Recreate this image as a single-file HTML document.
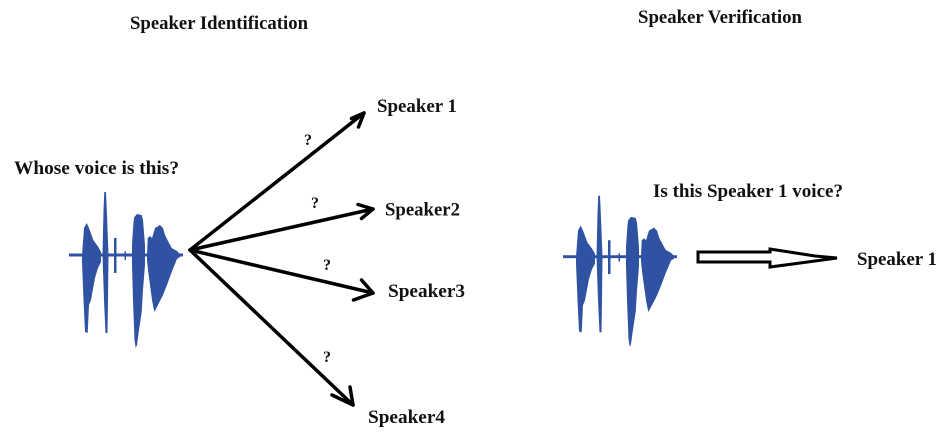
<!DOCTYPE html>
<html>
<head>
<meta charset="utf-8">
<style>
  html, body { margin: 0; padding: 0; background: #ffffff; }
  body { width: 947px; height: 434px; overflow: hidden; }
  svg { display: block; }
  text { font-family: "Liberation Serif", "DejaVu Serif", serif; font-weight: bold; fill: #111111; }
</style>
</head>
<body>
<svg width="947" height="434" viewBox="0 0 947 434" xmlns="http://www.w3.org/2000/svg">
  <rect x="0" y="0" width="947" height="434" fill="#ffffff"/>

  <defs>
    <g id="wave" fill="#2f52a3">
      <rect x="69" y="253.5" width="114" height="3"/>
      <!-- burst 1 -->
      <polygon points="82,255 84,228 86.7,223 89,228 93.3,240 98.3,247 101,252 101,262 98,268 95,278 91,300 89,305 87.7,333 85,332 83.5,300 82,262"/>
      <!-- spike 2 -->
      <polygon points="102.5,255 103.5,210 104.3,192 106,192 107,215 108.5,255 108,300 107.5,333 105.5,333 104,300"/>
      <!-- small spike -->
      <rect x="114" y="238" width="2.5" height="35"/>
      <rect x="124.5" y="251.5" width="1.5" height="8.5"/>
      <!-- burst 3 -->
      <polygon points="132,245 133.5,222 134.3,217 137,214 141.7,215 143,220 145,245 145,265 143,290 141.7,312 139,330 137,345 135.7,348 134.5,340 133,300 132,265"/>
      <!-- burst 4 -->
      <polygon points="147,255 147.7,238 150,236 152,238 155,228 160,225 163,228 165,235 168,241 171.7,248 177,251 180,254 180,257 177,259 171.7,272 167,285 163,295 158,305 154.3,312 152,300 150,285 148,270 147,260"/>
    </g>
  </defs>

  <!-- Titles -->
  <text x="130" y="29" font-size="18.5" textLength="178" lengthAdjust="spacingAndGlyphs">Speaker Identification</text>
  <text x="638" y="23" font-size="18.5" textLength="164" lengthAdjust="spacingAndGlyphs">Speaker Verification</text>

  <!-- Left side -->
  <text x="14" y="174" font-size="19" textLength="165" lengthAdjust="spacingAndGlyphs">Whose voice is this?</text>
  <use href="#wave"/>

  <g stroke="#000" stroke-width="3.5" fill="none" stroke-linecap="round" stroke-linejoin="round">
    <path d="M190 250 L364 113"/>
    <path d="M351.5 118.5 L364 113 L358.5 127"/>
    <path d="M190 250 L373 209"/>
    <path d="M358 204.5 L373 209 L361.5 218.5"/>
    <path d="M190 250 L373 293"/>
    <path d="M361.5 280 L373 293 L353.5 300"/>
    <path d="M190 250 L353 405"/>
    <path d="M350 387 L353 405 L332 395"/>
  </g>

  <text x="308" y="145" font-size="16" text-anchor="middle">?</text>
  <text x="315" y="208" font-size="16" text-anchor="middle">?</text>
  <text x="327" y="270" font-size="16" text-anchor="middle">?</text>
  <text x="327" y="362" font-size="16" text-anchor="middle">?</text>

  <text x="377" y="112" font-size="19" textLength="80" lengthAdjust="spacingAndGlyphs">Speaker 1</text>
  <text x="385" y="215.5" font-size="19" textLength="75" lengthAdjust="spacingAndGlyphs">Speaker2</text>
  <text x="388" y="297" font-size="19" textLength="77" lengthAdjust="spacingAndGlyphs">Speaker3</text>
  <text x="368" y="423" font-size="19" textLength="77" lengthAdjust="spacingAndGlyphs">Speaker4</text>

  <!-- Right side -->
  <text x="653" y="197" font-size="19" textLength="190" lengthAdjust="spacingAndGlyphs">Is this Speaker 1 voice?</text>
  <g transform="translate(494,256.7) scale(1,0.97) translate(0,-255)">
    <use href="#wave"/>
  </g>

  <polygon points="698,252 770,252 770,249 815,256 837,258 815,261 770,267 770,262 698,262"
           fill="#ffffff" stroke="#000" stroke-width="3" stroke-linejoin="miter"/>

  <text x="857" y="265" font-size="19" textLength="80" lengthAdjust="spacingAndGlyphs">Speaker 1</text>
</svg>
</body>
</html>
